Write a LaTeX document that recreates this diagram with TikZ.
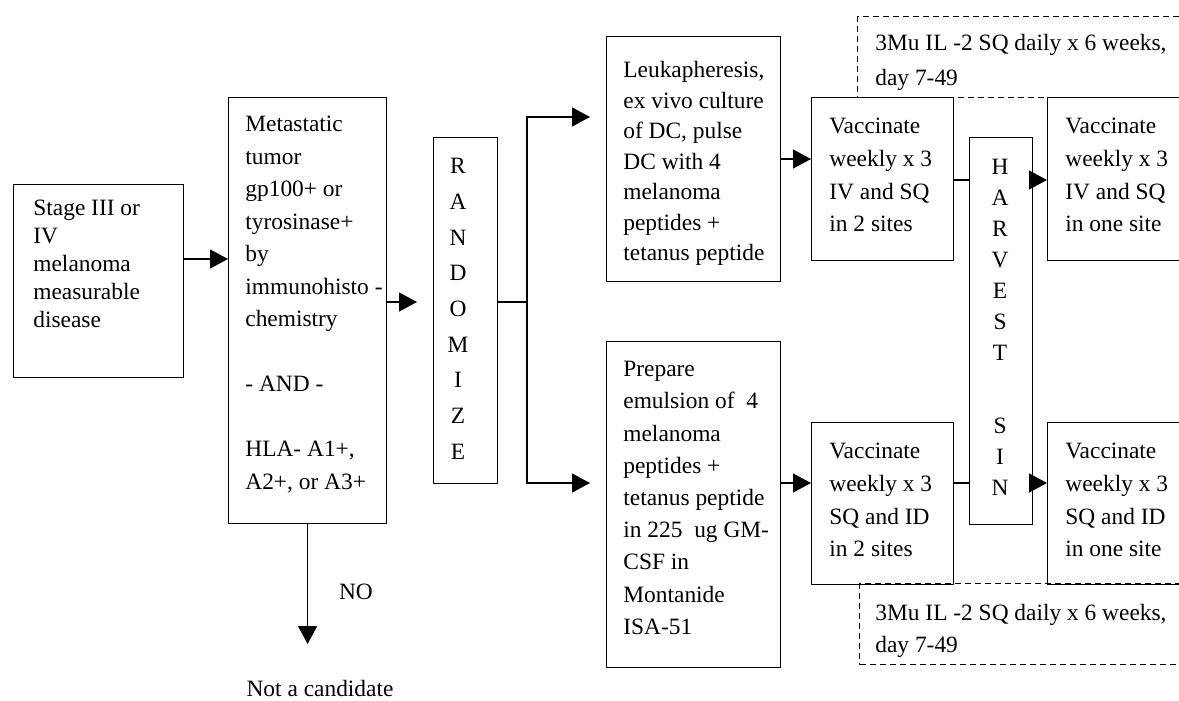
\documentclass[tikz,border=0pt]{standalone}
\usepackage{fontspec}
\setmainfont{Liberation Serif}
\usetikzlibrary{arrows.meta}
\begin{document}
\begin{tikzpicture}[x=0.5pt,y=-0.5pt,
  box/.style={draw, line width=0.6pt, inner sep=0pt, anchor=north west},
  dbox/.style={draw, line width=0.6pt, inner sep=0pt, anchor=north west, dash pattern=on 3pt off 2pt},
  txt/.style={inner sep=0pt, anchor=north west, align=left, font=\fontsize{11.7pt}{#1}\selectfont},
  lbl/.style={inner sep=0pt, font=\fontsize{11.7pt}{14pt}\selectfont},
  ln/.style={line width=0.6pt},
  arr/.style={line width=0.6pt, -{Triangle[length=9pt,width=9.5pt]}}]
\useasboundingbox (0,0) rectangle (1179,701);
\fill[white] (0,0) rectangle (1179,701);
\clip (0,0) rectangle (1179,701);

% dashed IL-2 boxes
\node[dbox, minimum width=175pt, minimum height=40.5pt] (ilA) at (857,16) {};
\node[dbox, minimum width=175pt, minimum height=40.5pt] (ilB) at (859,583) {};

% boxes
\node[box, minimum width=85pt, minimum height=96.5pt] (stage) at (13,184) {};
\node[box, minimum width=79pt, minimum height=213pt] (meta) at (228,97) {};
\node[box, minimum width=32pt, minimum height=173pt] (rand) at (433,137) {};
\node[box, minimum width=87pt, minimum height=122.5pt] (leuka) at (606,36) {};
\node[box, minimum width=87pt, minimum height=163pt] (prep) at (606,341) {};
\node[box, minimum width=71pt, minimum height=81.5pt] (vacA) at (811,97) {};
\node[box, minimum width=80pt, minimum height=81.5pt] (vacB) at (1047,97) {};
\node[box, minimum width=71pt, minimum height=81pt] (vacC) at (811,422) {};
\node[box, minimum width=80pt, minimum height=81pt] (vacD) at (1047,422) {};
\node[box, minimum width=31.5pt, minimum height=193.5pt] (harv) at (969,137) {};

% texts
\node[txt=14pt] (stageT) at (33,200) {Stage III or\\IV\\melanoma\\measurable\\disease};
\node[txt=16.25pt] (metaT) at (245,116) {Metastatic\\tumor\\gp100+ or\\tyrosinase+\\by\\immunohisto -\\chemistry\\[16.25pt]- AND -\\[16.25pt]HLA- A1+,\\A2+, or A3+};
\node[txt=17.85pt, align=center, anchor=north] (randT) at (458,158) {R\\A\\N\\D\\O\\M\\I\\Z\\E};
\node[txt=15.5pt, align=center, anchor=north] (harvT) at (1000,159) {H\\A\\R\\V\\E\\S\\T\\[21pt]S\\I\\N};
\node[txt=15.25pt] (leukaT) at (623,61) {Leukapheresis,\\ex vivo culture\\of DC, pulse\\DC with 4\\melanoma\\peptides +\\tetanus peptide};
\node[txt=16.1pt] (prepT) at (623,361) {Prepare\\emulsion of~ 4\\melanoma\\peptides +\\tetanus peptide\\in 225~ ug GM-\\CSF in\\Montanide\\ISA-51};
\node[txt=16.3pt] (vacAT) at (829,118) {Vaccinate\\weekly x 3\\IV and SQ\\in 2 sites};
\node[txt=16.3pt] (vacBT) at (1065,118) {Vaccinate\\weekly x 3\\IV and SQ\\in one site};
\node[txt=16.3pt] (vacCT) at (829,443) {Vaccinate\\weekly x 3\\SQ and ID\\in 2 sites};
\node[txt=16.3pt] (vacDT) at (1065,443) {Vaccinate\\weekly x 3\\SQ and ID\\in one site};
\node[txt=17.5pt] (ilAT) at (875,34) {3Mu IL -2 SQ daily x 6 weeks,\\day 7-49};
\node[txt=16pt] (ilBT) at (875,604) {3Mu IL -2 SQ daily x 6 weeks,\\day 7-49};
\node[lbl] (no) at (356,592) {NO};
\node[lbl] (notc) at (320,688) {Not a candidate};

% level coordinates
\coordinate (y259) at (0,259);
\coordinate (y302) at (0,302);
\coordinate (yA) at (0,117);
\coordinate (yB) at (0,483);
\coordinate (y159) at (0,159);
\coordinate (y180) at (0,180);
\coordinate (sp) at (527,302);
\coordinate (nc) at (308,644);

% connectors
\draw[arr] (stage.east |- y259) -- (meta.west |- y259);
\draw[arr, shorten >=8pt] (meta.east |- y302) -- (rand.west |- y302);
\draw[ln] (rand.east |- y302) -- (sp);
\draw[arr, shorten >=8pt] (sp) |- (leuka.west |- yA);
\draw[arr, shorten >=8pt] (sp) |- (prep.west |- yB);
\draw[arr] (leuka.east |- y159) -- (vacA.west |- y159);
\draw[arr] (prep.east |- yB) -- (vacC.west |- yB);
\draw[ln] (vacA.east |- y180) -- (harv.west |- y180);
\draw[arr] (harv.east |- y180) -- (vacB.west |- y180);
\draw[ln] (vacC.east |- yB) -- (harv.west |- yB);
\draw[arr] (harv.east |- yB) -- (vacD.west |- yB);
\draw[arr] (meta.south) -- (meta.south |- nc);
\end{tikzpicture}
\end{document}
